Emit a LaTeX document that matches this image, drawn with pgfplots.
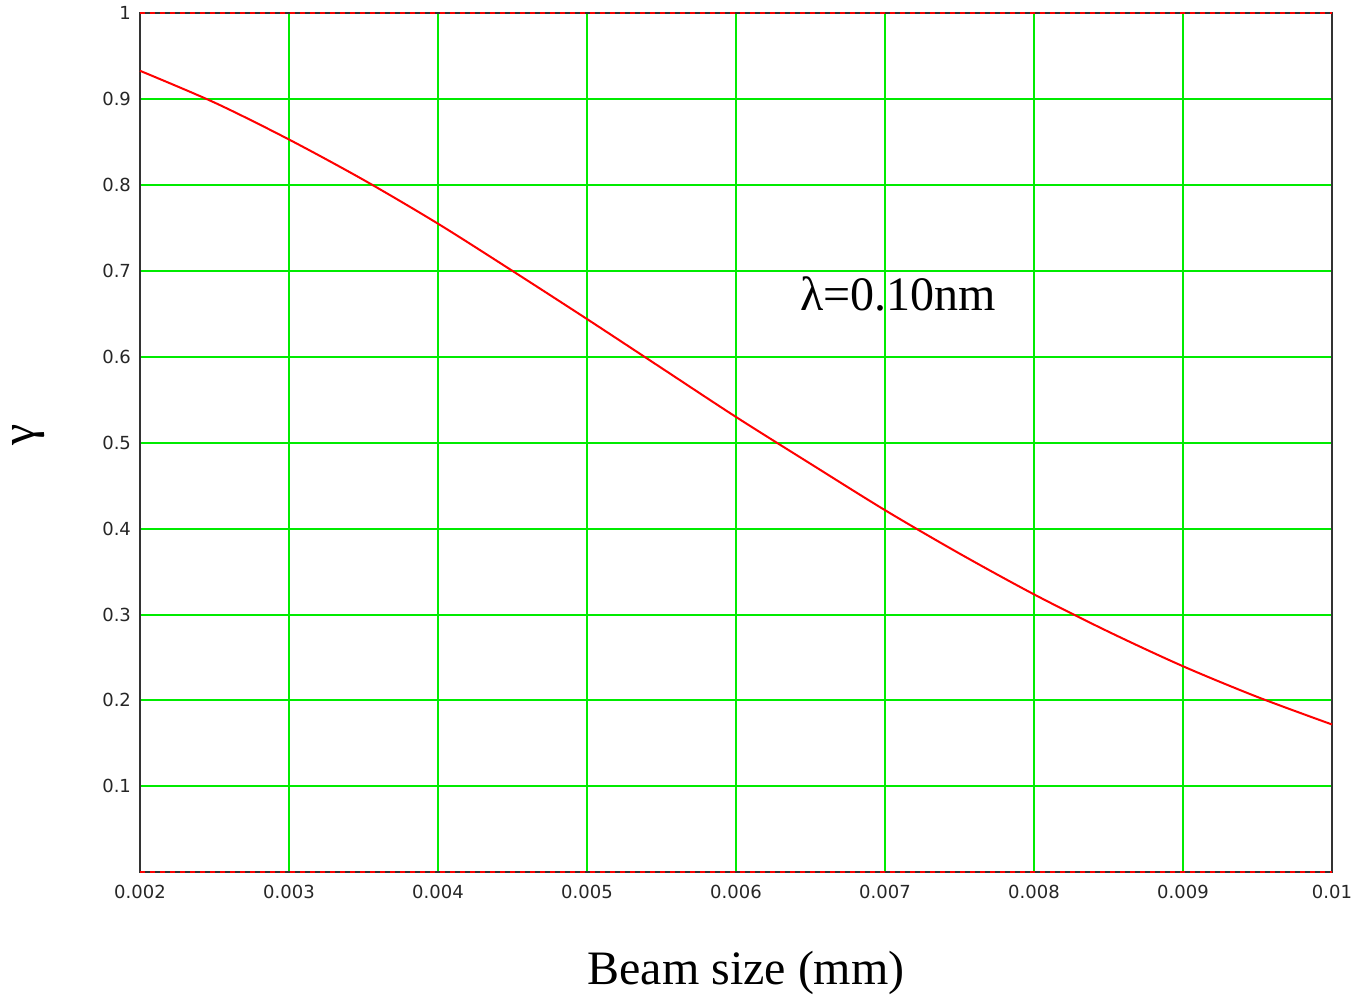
\documentclass[border=0pt]{standalone}
\usepackage{fontspec}
\setmainfont{Liberation Serif}
\newfontfamily\tickfont{DejaVu Sans}
\usepackage{pgfplots}
\pgfplotsset{compat=1.18}
\definecolor{gridgreen}{RGB}{0,235,0}
\definecolor{curvered}{RGB}{255,0,0}
\begin{document}
\begin{tikzpicture}
\begin{axis}[
  scale only axis,
  width=596pt, height=429.5pt,
  xmin=0.002, xmax=0.01, ymin=0, ymax=1,
  scaled x ticks=false, scaled y ticks=false,
  xtick={0.002,0.003,0.004,0.005,0.006,0.007,0.008,0.009,0.01},
  xticklabels={0.002,0.003,0.004,0.005,0.006,0.007,0.008,0.009,0.01},
  ytick={0.1,0.2,0.3,0.4,0.5,0.6,0.7,0.8,0.9,1},
  yticklabels={0.1,0.2,0.3,0.4,0.5,0.6,0.7,0.8,0.9,1},
  major tick length=0pt,
  tick label style={font=\tickfont\fontsize{9}{10}\selectfont, text=black!85},
  xticklabel style={yshift=-3pt},
  yticklabel style={xshift=-1pt},
  grid=major,
  major grid style={gridgreen, line width=1pt},
  axis line style={black!80, line width=1pt},
  xlabel={Beam size (mm)},
  ylabel={γ},
  xlabel style={font=\fontsize{24}{28}\selectfont, at={(axis description cs:0.5,0)}, anchor=center, yshift=-50.5pt, xshift=5pt},
  ylabel style={font=\fontsize{24}{28}\selectfont, at={(axis description cs:0,0.5)}, anchor=center, yshift=55.5pt, xshift=4pt},
  clip=false,
]
\addplot[curvered, line width=1pt, smooth] table {
x y
0.002 0.933
0.0025 0.896
0.003 0.853
0.0035 0.806
0.004 0.755
0.0045 0.700
0.005 0.644
0.0055 0.587
0.006 0.530
0.0065 0.4755
0.007 0.4215
0.0075 0.371
0.008 0.3235
0.0085 0.280
0.009 0.2398
0.0095 0.204
0.01 0.172
};
\draw[black!80, line width=1pt] (axis cs:0.002,1) -- (axis cs:0.01,1);
\draw[curvered, line width=1pt, dash pattern=on 2.5pt off 2.5pt] (axis cs:0.002,1) -- (axis cs:0.01,1);
\draw[black!80, line width=1pt] (axis cs:0.002,0) -- (axis cs:0.01,0);
\draw[curvered, line width=1pt, dash pattern=on 2.5pt off 2.5pt] (axis cs:0.002,0) -- (axis cs:0.01,0);
\node[font=\fontsize{24}{28}\selectfont, text=black] at (axis cs:0.00709,0.673) {λ=0.10nm};
\end{axis}
\path ([shift={(-70pt,-63pt)}]current axis.south west) rectangle ([shift={(16pt,6pt)}]current axis.north east);
\end{tikzpicture}
\end{document}
